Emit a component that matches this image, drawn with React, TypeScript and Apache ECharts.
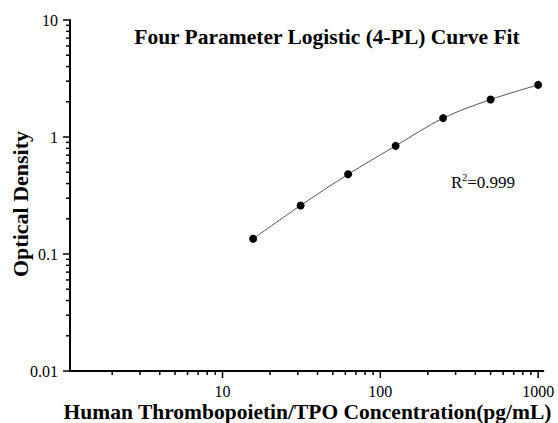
import React, { useEffect, useRef } from 'react';
import * as echarts from 'echarts';

// Data
const concentrations = [15.625, 31.25, 62.5, 125, 250, 500, 1000];
const opticalDensity = [0.135, 0.26, 0.48, 0.84, 1.45, 2.09, 2.79];

// Tick values
const xMajorTicks = [10, 100, 1000];
const xMinorTicks = [2, 3, 4, 5, 6, 7, 8, 9, 20, 30, 40, 50, 60, 70, 80, 90, 200, 300, 400, 500, 600, 700, 800, 900];
const yMajorTicks = [0.01, 0.1, 1, 10];
const yMinorTicks = [
  0.02, 0.03, 0.04, 0.05, 0.06, 0.07, 0.08, 0.09,
  0.2, 0.3, 0.4, 0.5, 0.6, 0.7, 0.8, 0.9,
  2, 3, 4, 5, 6, 7, 8, 9,
];

const X_MIN = 1.08;
const X_MAX = 1080;
const Y_MIN = 0.01;
const Y_MAX = 10;

const TITLE = 'Four Parameter Logistic (4-PL) Curve Fit';
const X_NAME = 'Human Thrombopoietin/TPO Concentration(pg/mL)';
const Y_NAME = 'Optical Density';

const FONT = '"Liberation Serif", "Times New Roman", serif';

const isPow10 = (v: number) => {
  const l = Math.log10(v);
  return Math.abs(l - Math.round(l)) < 1e-6;
};

export default function App() {
  const ref = useRef<HTMLDivElement>(null);

  useEffect(() => {
    if (!ref.current) return;
    const chart = echarts.init(ref.current, undefined, { renderer: 'svg' });

    const xTickData = [
      ...xMajorTicks.map((v) => [v, Y_MIN, 7]),
      ...xMinorTicks.map((v) => [v, Y_MIN, 4]),
    ];
    const yTickData = [
      ...yMajorTicks.map((v) => [X_MIN, v, 7]),
      ...yMinorTicks.map((v) => [X_MIN, v, 4]),
    ];

    chart.setOption({
      animation: false,
      backgroundColor: '#ffffff',
      grid: { left: 70, top: 20, width: 473.4, height: 351 },
      xAxis: {
        type: 'log',
        logBase: 10,
        min: X_MIN,
        max: X_MAX,
        axisLine: { show: true, lineStyle: { color: '#000', width: 2 } },
        axisTick: { show: false },
        minorTick: { show: false },
        splitLine: { show: false },
        axisLabel: {
          color: '#000',
          fontFamily: FONT,
          fontSize: 16,
          lineHeight: 16,
          margin: 12,
          showMinLabel: true,
          showMaxLabel: true,
          formatter: (v: number) => (v >= 9 && v <= 1001 && isPow10(v) ? String(Math.round(v)) : ''),
        },
      },
      yAxis: {
        type: 'log',
        logBase: 10,
        min: Y_MIN,
        max: Y_MAX,
        axisLine: { show: true, lineStyle: { color: '#000', width: 2 } },
        axisTick: { show: false },
        minorTick: { show: false },
        splitLine: { show: false },
        axisLabel: {
          color: '#000',
          fontFamily: FONT,
          fontSize: 16,
          margin: 12,
          formatter: (v: number) => (isPow10(v) ? String(Number(v.toPrecision(1))) : ''),
        },
      },
      series: [
        {
          type: 'custom',
          name: 'xTicks',
          clip: false,
          silent: true,
          encode: { x: 0, y: 1 },
          data: xTickData,
          renderItem: (params: any, api: any) => {
            const p = api.coord([api.value(0), api.value(1)]);
            const len = api.value(2);
            return {
              type: 'line',
              shape: { x1: p[0], y1: p[1], x2: p[0], y2: p[1] + len },
              style: { stroke: '#000', lineWidth: 1.5 },
            };
          },
        },
        {
          type: 'custom',
          name: 'yTicks',
          clip: false,
          silent: true,
          encode: { x: 0, y: 1 },
          data: yTickData,
          renderItem: (params: any, api: any) => {
            const p = api.coord([api.value(0), api.value(1)]);
            const len = api.value(2);
            return {
              type: 'line',
              shape: { x1: p[0] - len, y1: p[1], x2: p[0], y2: p[1] },
              style: { stroke: '#000', lineWidth: 1.5 },
            };
          },
        },
        {
          type: 'line',
          name: 'OD',
          data: concentrations.map((c, i) => [c, opticalDensity[i]]),
          smooth: 0.3,
          symbol: 'circle',
          symbolSize: 8,
          itemStyle: { color: '#000' },
          lineStyle: { color: '#555', width: 1 },
          z: 5,
        },
      ],
      graphic: [
        {
          type: 'text',
          x: 327,
          y: 37,
          style: {
            text: TITLE,
            fill: '#000',
            font: `bold 21.5px ${FONT}`,
            align: 'center',
            verticalAlign: 'middle',
          },
        },
        {
          type: 'text',
          x: 307.5,
          y: 411.5,
          style: {
            text: X_NAME,
            fill: '#000',
            font: `bold 21.5px ${FONT}`,
            lineHeight: 20,
            align: 'center',
            verticalAlign: 'middle',
          },
        },
        {
          type: 'text',
          x: 20,
          y: 204,
          rotation: Math.PI / 2,
          style: {
            text: Y_NAME,
            fill: '#000',
            font: `bold 22px ${FONT}`,
            align: 'center',
            verticalAlign: 'middle',
          },
        },
        {
          type: 'text',
          x: 483,
          y: 182,
          style: {
            text: '{a|R}{s|2}{a|=0.999}',
            align: 'center',
            verticalAlign: 'middle',
            rich: {
              a: { fontFamily: FONT, fontSize: 17, fill: '#000', lineHeight: 19 },
              s: { fontFamily: FONT, fontSize: 10, fill: '#000', lineHeight: 19, verticalAlign: 'top' },
            },
          },
        },
      ],
    });

    return () => chart.dispose();
  }, []);

  return (
    <div
      ref={ref}
      style={{ position: 'fixed', left: 0, top: 0, width: 558, height: 423 }}
    />
  );
}
